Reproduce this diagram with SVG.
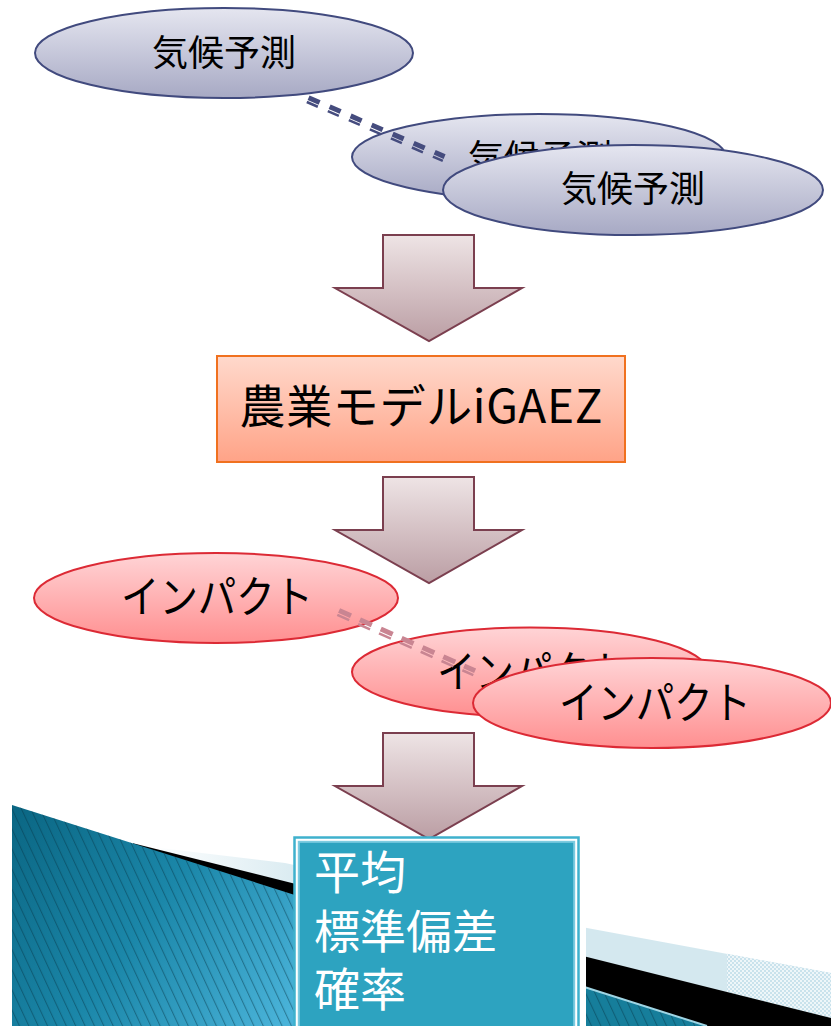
<svg xmlns="http://www.w3.org/2000/svg" width="831" height="1026" viewBox="0 0 831 1026">
<defs>
<linearGradient id="gBlue" x1="0" y1="0" x2="0" y2="1"><stop offset="0" stop-color="#e5e6f0"/><stop offset="1" stop-color="#a7a9c4"/></linearGradient>
<linearGradient id="gPink" x1="0" y1="0" x2="0" y2="1"><stop offset="0" stop-color="#ffd4d6"/><stop offset="1" stop-color="#ff8f90"/></linearGradient>
<linearGradient id="gArrow" x1="0" y1="0" x2="0" y2="1"><stop offset="0" stop-color="#eee4e5"/><stop offset="1" stop-color="#bb9ea4"/></linearGradient>
<linearGradient id="gBox" x1="0" y1="0" x2="0" y2="1"><stop offset="0" stop-color="#ffd9cc"/><stop offset="1" stop-color="#ffa387"/></linearGradient>
<linearGradient id="gTeal" gradientUnits="userSpaceOnUse" x1="12" y1="815" x2="290" y2="1015"><stop offset="0" stop-color="#0b6784"/><stop offset="0.5" stop-color="#1b87a9"/><stop offset="1" stop-color="#4ab3d9"/></linearGradient>
<linearGradient id="gLight" gradientUnits="userSpaceOnUse" x1="150" y1="0" x2="320" y2="0"><stop offset="0" stop-color="#d4e8ef" stop-opacity="0"/><stop offset="1" stop-color="#d4e8ef"/></linearGradient>
<pattern id="pStripe" width="8.5" height="40" patternUnits="userSpaceOnUse" patternTransform="rotate(-25)"><rect x="0" y="0" width="1.1" height="40" fill="#06384a" fill-opacity="0.45"/></pattern>
<pattern id="pCheck" width="4" height="4" patternUnits="userSpaceOnUse"><rect width="4" height="4" fill="#c9e2ec"/><rect x="0" y="0" width="2" height="2" fill="#eef6f9"/><rect x="2" y="2" width="2" height="2" fill="#eef6f9"/></pattern>
<style>
.jp{font-family:"Noto Sans CJK JP","Noto Sans CJK SC",sans-serif;}
.eb{fill:url(#gBlue);stroke:#414a7e;stroke-width:2;}
.ep{fill:url(#gPink);stroke:#dc2a35;stroke-width:2;}
.arr{fill:url(#gArrow);stroke:#7b3f4f;stroke-width:2;stroke-linejoin:miter;}
.t36{font-size:36px;fill:#000;text-anchor:middle;}
.t44{font-size:44px;fill:#000;text-anchor:middle;}
.dashB{stroke:#454c7e;fill:none;stroke-dasharray:12 10.9;}
.dashP{stroke:#c98592;fill:none;stroke-dasharray:13 9.8;}
</style>
</defs>

<g id="background">
<polygon points="160,848 285,863 587,928 831,973 831,1026 160,1026" fill="url(#gLight)"/>
<polygon points="727,953.8 831,973 831,1018 727,992" fill="url(#pCheck)"/>
<polygon points="133,843.3 831,1018 831,1026 133,1026" fill="#000"/>
<polygon points="12,805 294,894.7 294,1026 12,1026" fill="url(#gTeal)"/>
<polygon points="12,805 294,894.7 294,1026 12,1026" fill="url(#pStripe)"/>
<polygon points="578,985 707,1026 578,1026" fill="#167e9b"/>
<polygon points="578,985 707,1026 578,1026" fill="url(#pStripe)"/>
<line x1="578" y1="985" x2="707" y2="1026" stroke="#9fd5e4" stroke-width="2"/>
<rect x="578" y="900" width="8" height="126" fill="#fff"/>
</g>

<g id="climate1"><ellipse class="eb" cx="224" cy="53" rx="189" ry="45"/><text class="jp t36" x="224" y="66">気候予測</text></g>
<g id="climate2"><ellipse class="eb" cx="539" cy="157" rx="187" ry="43"/><text class="jp t36" x="540" y="171">気候予測</text></g>
<g id="impact1"><ellipse class="ep" cx="216" cy="598" rx="182" ry="45"/><text class="jp t44" x="217" y="613" textLength="192" lengthAdjust="spacingAndGlyphs">インパクト</text></g>
<g id="impact2"><ellipse class="ep" cx="530" cy="672" rx="178" ry="44.5"/><text class="jp t44" x="533" y="688" textLength="192" lengthAdjust="spacingAndGlyphs">インパクト</text></g>

<g id="connectors">
<line class="dashB" x1="308.6" y1="97.7" x2="444.6" y2="156.6" stroke-width="5"/>
<line class="dashB" x1="306.8" y1="102.0" x2="442.8" y2="160.9" stroke-width="2.5"/>
<line class="dashP" x1="339.1" y1="610.5" x2="475.1" y2="670.8" stroke-width="5"/>
<line class="dashP" x1="337.3" y1="614.8" x2="473.3" y2="675.1" stroke-width="2.5"/>
</g>

<g id="climate3"><ellipse class="eb" cx="633" cy="190" rx="190" ry="45"/><text class="jp t36" x="633" y="202">気候予測</text></g>
<g id="impact3"><ellipse class="ep" cx="652" cy="703" rx="179" ry="45"/><text class="jp t44" x="655" y="719" textLength="192" lengthAdjust="spacingAndGlyphs">インパクト</text></g>

<g id="arrow1"><polygon class="arr" points="383,235 474,235 474,288 522,288 429,341 335,288 383,288"/></g>

<g id="model"><rect x="217" y="356" width="408" height="106" fill="url(#gBox)" stroke="#f0711f" stroke-width="2"/>
<text class="jp" x="421" y="423" font-size="46" text-anchor="middle" textLength="363" lengthAdjust="spacing">農業モデルiGAEZ</text></g>

<g id="arrow2"><polygon class="arr" points="383,477 474,477 474,530 522,530 429,583 335,530 383,530"/></g>

<g id="arrow3"><polygon class="arr" points="383,733 474,733 474,786 522,786 429,839 335,786 383,786"/></g>

<g id="result">
<rect x="294.5" y="837.5" width="284" height="200" fill="#ffffff" stroke="#3fb1cd" stroke-width="2.5"/>
<rect x="298.8" y="841.8" width="275.4" height="200" fill="#2da3c0" stroke="#7ccbe0" stroke-width="2"/>
<text class="jp" x="314" y="889" font-size="46" fill="#fff">平均</text>
<text class="jp" x="314" y="948" font-size="46" fill="#fff">標準偏差</text>
<text class="jp" x="314" y="1006" font-size="46" fill="#fff">確率</text>
</g>
</svg>
